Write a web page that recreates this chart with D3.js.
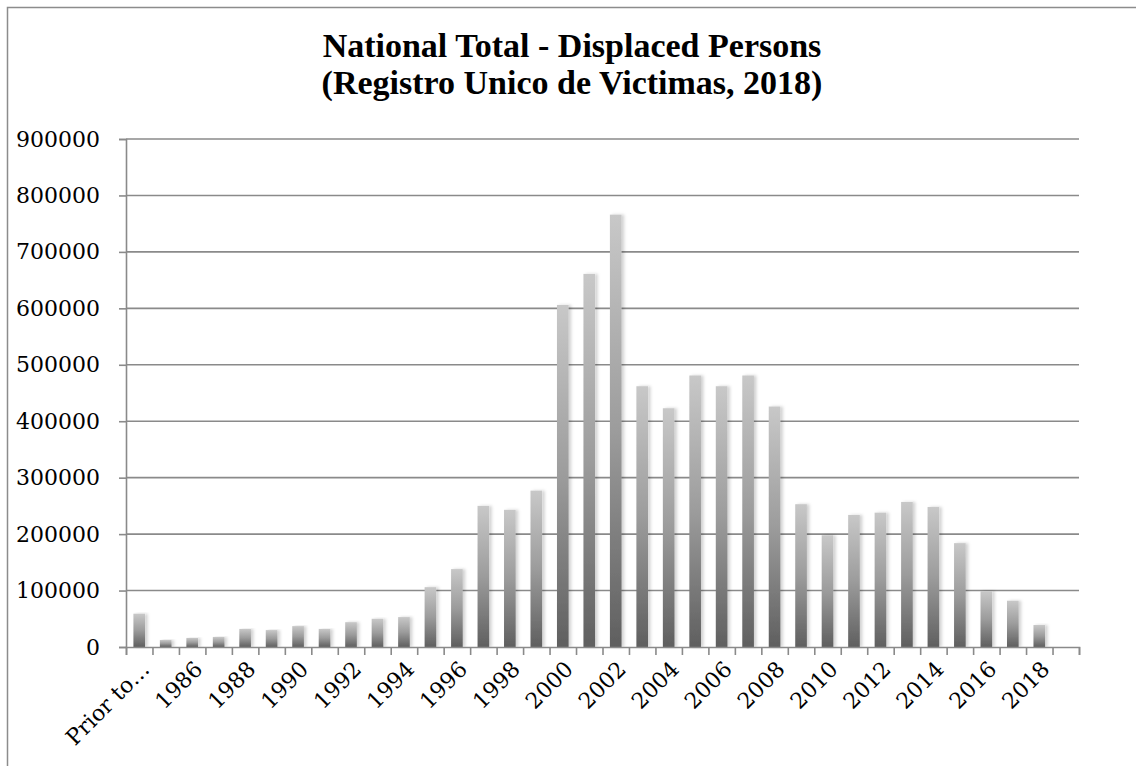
<!DOCTYPE html>
<html>
<head>
<meta charset="utf-8">
<script src="https://cdn.jsdelivr.net/npm/d3@7"></script>
<style>
  html, body { margin: 0; padding: 0; background: #fff; }
  svg { display: block; }
</style>
</head>
<body>
<div id="chart"></div>
<script>
// ------------------------------------------------------------
// Data
// ------------------------------------------------------------
const titleLines = ["National Total - Displaced Persons", "(Registro Unico de Victimas, 2018)"];

const categories = ["Prior to 1985", "1985", "1986", "1987", "1988", "1989", "1990", "1991",
    "1992", "1993", "1994", "1995", "1996", "1997", "1998", "1999", "2000", "2001", "2002",
    "2003", "2004", "2005", "2006", "2007", "2008", "2009", "2010", "2011", "2012", "2013",
    "2014", "2015", "2016", "2017", "2018", "2019"];

const displaced = [59000, 12400, 16000, 17800, 32000, 30000, 37000, 32000, 44000, 50000,
    53000, 106000, 138000, 250000, 243000, 277000, 606000, 661000, 766000, 462000, 423000,
    481000, 462000, 481000, 426000, 253000, 198000, 234000, 238000, 257000, 248000, 184000,
    99000, 82000, 39000, null];

const yTicks = [0, 100000, 200000, 300000, 400000, 500000, 600000, 700000, 800000, 900000];

// ------------------------------------------------------------
// Layout
// ------------------------------------------------------------
const width = 1136, height = 766;
const plot = { left: 126, right: 1079, top: 139, bottom: 647 };

const svg = d3.select("#chart")
    .append("svg")
    .attr("width", width)
    .attr("height", height);

// frame around the chart area
svg.append("path")
    .attr("d", `M7.5,${height + 2} V7.5 H${width + 2}`)
    .attr("fill", "none")
    .attr("stroke", "#8c8c8c")
    .attr("stroke-width", 1.5);

const defs = svg.append("defs");
const grad = defs.append("linearGradient")
    .attr("id", "barGrad")
    .attr("x1", 0).attr("y1", 0).attr("x2", 0).attr("y2", 1);
grad.append("stop").attr("offset", "0%").attr("stop-color", "#c8c8c8");
grad.append("stop").attr("offset", "50%").attr("stop-color", "#9c9c9c");
grad.append("stop").attr("offset", "100%").attr("stop-color", "#5f5f5f");

const shadow = defs.append("filter")
    .attr("id", "barShadow")
    .attr("x", "-50%").attr("y", "-5%").attr("width", "200%").attr("height", "110%");
shadow.append("feDropShadow")
    .attr("dx", 2.5).attr("dy", 0)
    .attr("stdDeviation", 1.5)
    .attr("flood-color", "#000")
    .attr("flood-opacity", 0.18);

// Scales
const x = d3.scaleBand()
    .domain(categories)
    .range([plot.left, plot.right])
    .paddingInner(0.56)
    .paddingOuter(0.28);

const xEdges = d3.scaleLinear()
    .domain([0, categories.length])
    .range([plot.left, plot.right]);

const y = d3.scaleLinear()
    .domain([0, 900000])
    .range([plot.bottom, plot.top]);

// Gridlines
svg.append("g")
    .selectAll("line")
    .data(yTicks.filter(d => d > 0))
    .enter()
    .append("line")
    .attr("x1", plot.left)
    .attr("x2", plot.right)
    .attr("y1", d => y(d))
    .attr("y2", d => y(d))
    .attr("stroke", "#8a8a8a")
    .attr("stroke-width", 1.6);

// Bars
svg.append("g")
    .selectAll("rect")
    .data(categories.map((c, i) => ({ cat: c, value: displaced[i] })).filter(d => d.value != null))
    .enter()
    .append("rect")
    .attr("x", d => x(d.cat))
    .attr("y", d => y(d.value))
    .attr("width", x.bandwidth())
    .attr("height", d => y(0) - y(d.value))
    .attr("fill", "url(#barGrad)")
    .attr("filter", "url(#barShadow)");

// Y axis
const yAxis = svg.append("g")
    .attr("transform", `translate(${plot.left},0)`)
    .call(d3.axisLeft(y).tickValues(yTicks).tickSize(7).tickPadding(19).tickFormat(d3.format("d")));

// X axis: ticks on category edges
const xAxis = svg.append("g")
    .attr("transform", `translate(0,${plot.bottom})`)
    .call(d3.axisBottom(xEdges).tickValues(d3.range(categories.length + 1)).tickSize(8).tickFormat(""));

[yAxis, xAxis].forEach(g => {
    g.select(".domain").attr("stroke", "#8a8a8a").attr("stroke-width", 1.6);
    g.selectAll(".tick line").attr("stroke", "#8a8a8a").attr("stroke-width", 1.6);
});

yAxis.selectAll("text")
    .attr("font-family", "'DejaVu Serif', serif")
    .attr("font-size", "22px")
    .attr("fill", "#000");

// X labels (every second category), rotated
svg.append("g")
    .selectAll("text")
    .data(categories.filter((c, i) => i % 2 === 0 && i < categories.length - 1))
    .enter()
    .append("text")
    .attr("transform", d => `translate(${x(d) + x.bandwidth() / 2},659) rotate(-45)`)
    .attr("text-anchor", "end")
    .attr("dy", "0.75em")
    .attr("font-family", "'DejaVu Serif', serif")
    .attr("font-size", "22px")
    .attr("fill", "#000")
    .text(d => d.startsWith("Prior") ? "Prior to\u2026" : d);

// Title
svg.append("g")
    .selectAll("text")
    .data(titleLines)
    .enter()
    .append("text")
    .attr("x", 572)
    .attr("y", (d, i) => 57 + i * 37)
    .attr("text-anchor", "middle")
    .attr("font-family", "'Liberation Serif', serif")
    .attr("font-weight", "bold")
    .attr("font-size", "34px")
    .attr("fill", "#000")
    .text(d => d);
</script>
</body>
</html>
